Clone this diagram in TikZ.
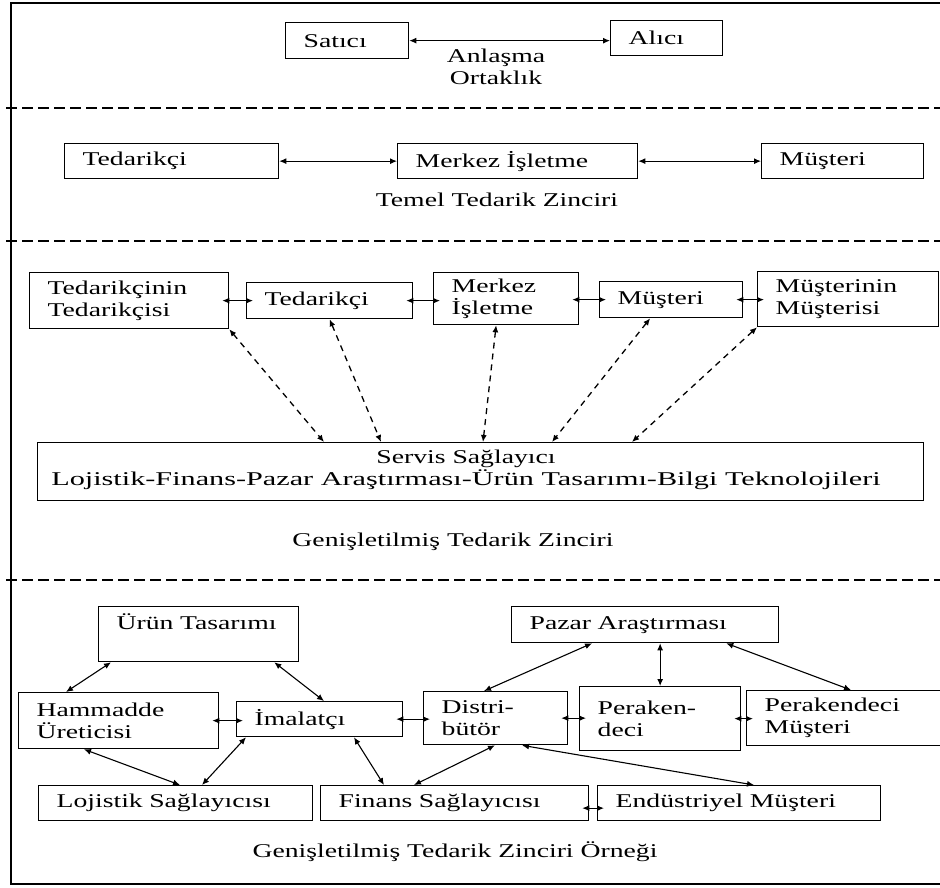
\documentclass[tikz,border=0pt]{standalone}
\usepackage{fontspec}
\setmainfont[FakeStretch=1.42]{Liberation Serif}
\newfontfamily\widefont[FakeStretch=1.55]{Liberation Serif}
\usetikzlibrary{arrows.meta,calc}

\begin{document}
\begin{tikzpicture}[x=1pt,y=-1pt,>={Latex[length=7pt,width=6pt]},
    font=\fontsize{19.5}{22}\selectfont]
    \tikzset{box/.style={
      draw, line width=1.3pt, anchor=north west, inner xsep=18pt, inner ysep=2pt, align=left
    }}
    \tikzset{link/.style={<->, line width=1.1pt}}
    \tikzset{tight/.style={link, shorten <=-7pt, shorten >=-7pt}}
    \tikzset{dashlink/.style={<->, line width=1.3pt, dash pattern=on 6pt off 5pt}}
    \tikzset{sep/.style={line width=1.3pt, dash pattern=on 11pt off 5pt}}
    \useasboundingbox (0,0) rectangle (940,888);

    % Frame and separators
    \draw[line width=1.5pt] (940,3) -- (11,3) -- (11,884) -- (940,884);
    \draw[sep] (6,108) -- (940,108);
    \draw[sep] (6,241) -- (940,241);
    \draw[sep] (6,580) -- (940,580);

    % Satici - Alici
    \node[box, text width=87pt, minimum height=36pt] (satici) at (285,22) {Satıcı};
    \node[box, text width=76pt, minimum height=35pt] (alici)  at (610,20) {Alıcı};
    \node[align=center] (anlasma) at (496,67) {Anlaşma\\Ortaklık};
    \draw[link] (satici.east) -- (satici.east -| alici.west);

    % Temel tedarik zinciri
    \node[box, text width=178pt, minimum height=35pt] (ted1)    at (64,143)  {Tedarikçi};
    \node[box, text width=204pt, minimum height=35pt] (merkez1) at (397,143) {Merkez İşletme};
    \node[box, text width=126pt, minimum height=35pt] (must1)   at (761,143) {Müşteri};
    \node (temel) at (497,200) {Temel Tedarik Zinciri};
    \draw[link] (ted1.east)    -- (merkez1.west);
    \draw[link] (merkez1.east) -- (must1.west);

    % Genisletilmis tedarik zinciri
    \node[box, text width=163pt, minimum height=56pt] (tt)      at (29,272)  {Tedarikçinin\\Tedarikçisi};
    \node[box, text width=130pt, minimum height=36pt] (ted2)    at (246,282) {Tedarikçi};
    \node[box, text width=109pt, minimum height=52pt] (merkez2) at (433,272) {Merkez\\İşletme};
    \node[box, text width=107pt, minimum height=36pt] (must2)   at (599,281) {Müşteri};
    \node[box, text width=145pt, minimum height=55pt] (mm)      at (757,271) {Müşterinin\\Müşterisi};
    \node[box, inner sep=0pt, minimum width=886pt, minimum height=58pt] (servis) at (37,442) {};
    \node[align=center] (servistext) at (466,470)
      {Servis Sağlayıcı\\{\widefont Lojistik-Finans-Pazar Araştırması-Ürün Tasarımı-Bilgi Teknolojileri}};
    \node (genis) at (453,542) {Genişletilmiş Tedarik Zinciri};

    \draw[tight] (tt.east)      -- (tt.east -| ted2.west);
    \draw[tight] (ted2.east)    -- (ted2.east -| merkez2.west);
    \draw[tight] (must2.west -| merkez2.east) -- (must2.west);
    \draw[tight] (must2.east)   -- (must2.east -| mm.west);

    \coordinate (s1) at (324,442);
    \coordinate (s2) at (381,442);
    \coordinate (s3) at (483,442);
    \coordinate (s4) at (552,442);
    \coordinate (s5) at (632,442);
    \draw[dashlink] (tt.south east) -- (s1);
    \draw[dashlink] (ted2.south) -- (s2);
    \draw[dashlink] ($(merkez2.south)+(-10,0)$) -- (s3);
    \draw[dashlink] ($(must2.south)+(-21,0)$) -- (s4);
    \draw[dashlink] (mm.south west) -- (s5);

    % Ornek
    \node[box, text width=164pt, text height=21pt, text depth=30pt] (urun) at (98,606) {Ürün Tasarımı};
    \node[box, text width=231pt, minimum height=36pt] (pazar) at (511,606) {Pazar Araştırması};
    \node[box, text width=164pt, minimum height=56pt] (ham)   at (18,692)  {Hammadde\\Üreticisi};
    \node[box, text width=130pt, minimum height=35pt] (imal)  at (236,701) {İmalatçı};
    \node[box, text width=108pt, minimum height=53pt] (dist)  at (423,691) {Distri-\\bütör};
    \node[box, text width=125pt, minimum height=64pt] (perak) at (579,686) {Peraken-\\deci};
    \node[box, text width=163pt, minimum height=55pt] (pm)    at (746,690) {Perakendeci\\Müşteri};
    \node[box, text width=238pt, minimum height=35pt] (loj)   at (38,785)  {Lojistik Sağlayıcısı};
    \node[box, text width=232pt, minimum height=35pt] (fin)   at (320,785) {Finans Sağlayıcısı};
    \node[box, text width=247pt, minimum height=35pt] (endus) at (597,785) {Endüstriyel Müşteri};
    \node (ornek) at (455,852) {Genişletilmiş Tedarik Zinciri Örneği};

    \draw[link] ($(urun.south west)+(13,0)$)  -- ($(ham.north west)+(48,0)$);
    \draw[link] ($(urun.south east)+(-25,0)$) -- ($(imal.north west)+(88,0)$);
    \draw[tight] (ham.east)   -- (ham.east -| imal.west);
    \draw[tight] (imal.east)  -- (imal.east -| dist.west);
    \draw[tight] (dist.east)  -- (dist.east -| perak.west);
    \draw[tight] (perak.east) -- (perak.east -| pm.west);
    \draw[link] ($(pazar.south west)+(81,0)$)  -- ($(dist.north west)+(61,0)$);
    \draw[link] (perak.north |- pazar.south)   -- (perak.north);
    \draw[link] ($(pazar.south east)+(-53,0)$) -- ($(pm.north west)+(105,0)$);
    \draw[link] ($(ham.south west)+(66,0)$)   -- ($(loj.north west)+(142,0)$);
    \draw[link] ($(imal.south west)+(10,0)$)  -- ($(loj.north west)+(164,0)$);
    \draw[link] ($(imal.south west)+(118,0)$) -- ($(fin.north west)+(64,0)$);
    \draw[link] ($(dist.south west)+(72,0)$)  -- ($(fin.north west)+(94,0)$);
    \draw[link] ($(dist.south west)+(99,0)$)  -- ($(endus.north west)+(157,0)$);
    \draw[tight] ($(fin.east)+(0,5)$) -- ($(endus.west)+(0,5)$);

  \end{tikzpicture}
\end{document}
